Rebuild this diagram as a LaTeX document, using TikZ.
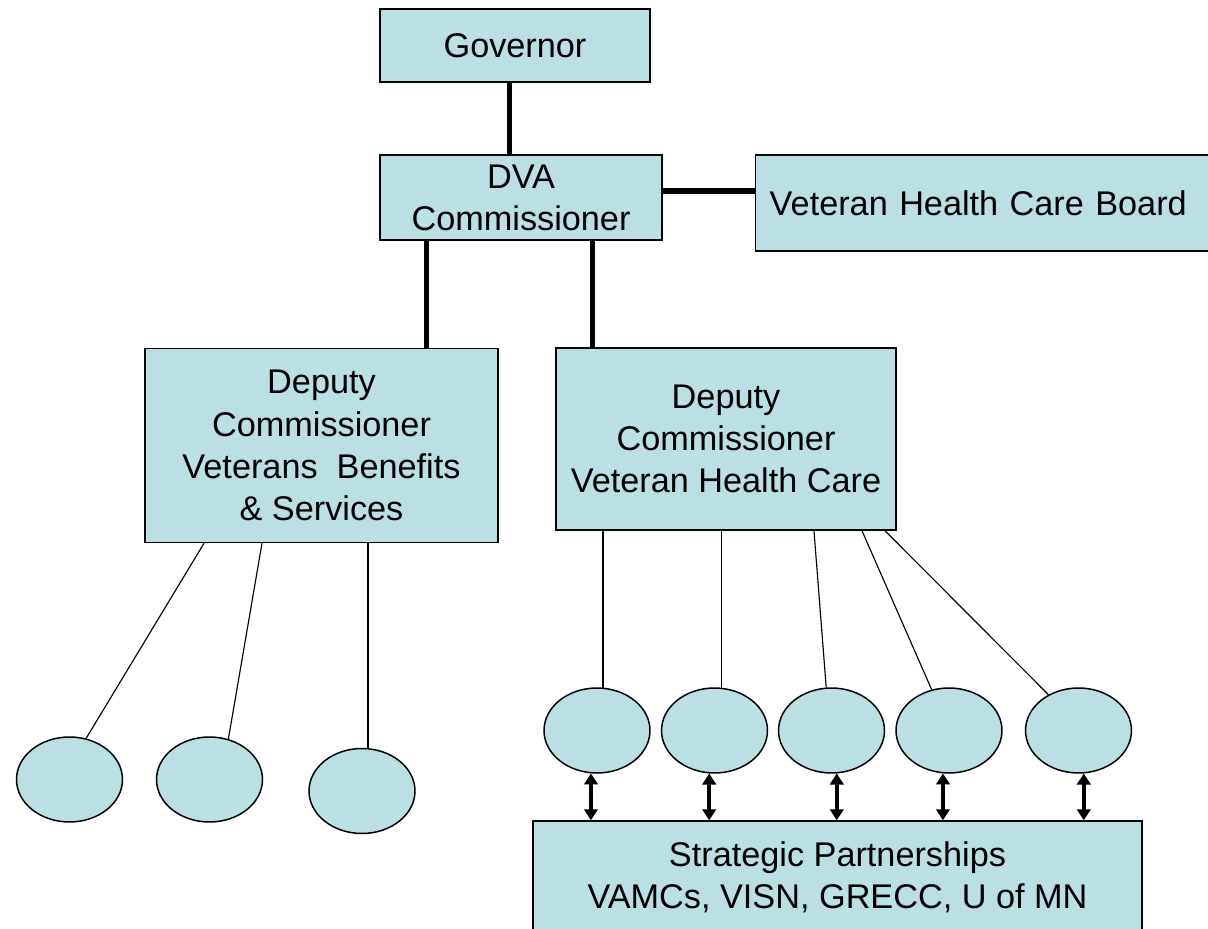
\documentclass[tikz,border=0pt]{standalone}
\usepackage{fontspec}
\setmainfont{Liberation Sans}
\usepackage{tikz}
\usetikzlibrary{arrows.meta,shapes.geometric}
\definecolor{boxfill}{RGB}{187,224,227}

\begin{document}
\begin{tikzpicture}[x=0.02cm,y=-0.02cm,
  office/.style={draw,line width=0.85pt,fill=boxfill,align=center,inner sep=0pt,
    font=\fontsize{19.5}{24}\selectfont},
  unit/.style={draw,line width=0.85pt,fill=boxfill,ellipse,inner sep=0pt,
    minimum width=2.12cm,minimum height=1.7cm},
  chain/.style={line width=2.85pt},
  branch/.style={line width=0.65pt},
  twoway/.style={line width=2.2pt,
    {Triangle[width=0.27cm,length=0.22cm]}-{Triangle[width=0.27cm,length=0.22cm]}}]
 \useasboundingbox (0,0) rectangle (1208,929);
 % top of the chart
 \node[office,minimum width=5.4cm,minimum height=1.46cm] (gov) at (515,45.5) {Governor};
 \node[office,minimum width=5.64cm,minimum height=1.7cm] (dva) at (521,197.5) {DVA\\Commissioner};
 \node[office,anchor=west,align=left,text width=9.2cm,inner xsep=0.28cm,
   minimum height=1.92cm] (board) at (755,203)
   {Veteran Health Care Board};
 % deputies
 \node[office,minimum width=7.06cm,minimum height=3.88cm] (dvb) at (321.5,445.5)
   {Deputy\\Commissioner\\Veterans\ \ Benefits\\\& Services};
 \node[office,minimum width=6.8cm,minimum height=3.64cm] (dhc) at (726,439)
   {Deputy\\Commissioner\\Veteran Health Care};
 \node[office,minimum width=12.18cm,minimum height=2.24cm] (sp) at (837.5,877)
   {Strategic Partnerships\\VAMCs, VISN, GRECC, U of MN};
 % benefits units
 \node[unit] (b1) at (69.5,779.5) {};
 \node[unit] (b2) at (209.5,779.5) {};
 \node[unit] (b3) at (362,791) {};
 % health care units
 \node[unit] (h1) at (597,730.5) {};
 \node[unit] (h2) at (714.5,730.5) {};
 \node[unit] (h3) at (831.5,730.5) {};
 \node[unit] (h4) at (949,730.5) {};
 \node[unit] (h5) at (1078.5,730.5) {};

 \draw[chain] ([xshift=-0.12cm]gov.south) -- ([xshift=-0.12cm]gov.south |- dva.north);
 \draw[chain] ([yshift=0.13cm]dva.east) -- ([yshift=0.13cm]dva.east -| board.west);
 \draw[chain] ([xshift=2.11cm]dvb.north) -- ([xshift=2.11cm]dvb.north |- dva.south);
 \draw[chain] ([xshift=-2.68cm]dhc.north) -- ([xshift=-2.68cm]dhc.north |- dva.south);

 \draw[branch] ([xshift=-2.35cm]dvb.south) -- (b1.68);
 \draw[branch] ([xshift=-1.19cm]dvb.south) -- (b2.65);
 \draw[branch] (b3.82 |- dvb.south) -- (b3.82);

 \draw[branch] (h1.82 |- dhc.south) -- (h1.82);
 \draw[branch] (h2.81 |- dhc.south) -- (h2.81);
 \draw[branch] ([xshift=1.76cm]dhc.south) -- (h3.97);
 \draw[branch] ([xshift=2.72cm]dhc.south) -- (h4.113);
 \draw[branch] ([xshift=3.18cm]dhc.south) -- (h5.130);

 \draw[twoway] (h1.-98) -- (h1.-98 |- sp.north);
 \draw[twoway] (h2.-97) -- (h2.-97 |- sp.north);
 \draw[twoway] (h3.-83) -- (h3.-83 |- sp.north);
 \draw[twoway] (h4.-98) -- (h4.-98 |- sp.north);
 \draw[twoway] (h5.-83) -- (h5.-83 |- sp.north);
\end{tikzpicture}
\end{document}
